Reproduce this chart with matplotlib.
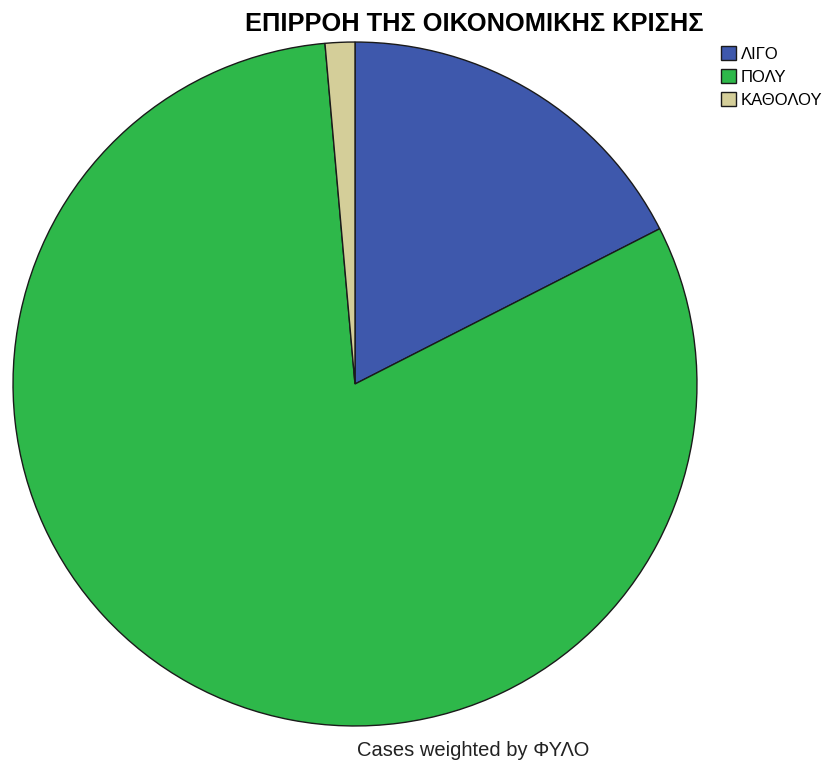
import matplotlib
matplotlib.use("Agg")
import matplotlib.pyplot as plt

plt.rcParams['font.family'] = ['Liberation Sans', 'DejaVu Sans']

categories = ["ΛΙΓΟ", "ΠΟΛΥ", "ΚΑΘΟΛΟΥ"]
shares = [17.5, 81.1, 1.4]
colors = ["#3E58AC", "#2EB84A", "#D4CE99"]

W, H = 828, 762
fig = plt.figure(figsize=(W / 100, H / 100), dpi=100)

cx, cy, r = 355, 384, 343
ax = fig.add_axes([(cx - r) / W, (H - cy - r) / H, 2 * r / W, 2 * r / H])
wedges, _ = ax.pie(shares, colors=colors, startangle=90, counterclock=False,
                   radius=1.0,
                   wedgeprops=dict(edgecolor="#1a1a1a", linewidth=1.0))
ax.set_xlim(-1.003, 1.003)
ax.set_ylim(-1.003, 1.003)
ax.set_aspect("equal")
ax.axis("off")

fig.text(474 / W, 1 - 24 / H, "ΕΠΙΡΡΟΗ ΤΗΣ ΟΙΚΟΝΟΜΙΚΗΣ ΚΡΙΣΗΣ",
         ha="center", va="center", fontsize=18.3, fontweight="bold")

fig.legend(wedges, categories, loc="upper left",
           bbox_to_anchor=(721 / W, 1 - 46 / H), frameon=False,
           fontsize=12, handlelength=0.9, handleheight=0.9,
           handletextpad=0.3, labelspacing=0.45, borderpad=0.0,
           borderaxespad=0.0)

fig.text(473 / W, 1 - 751 / H, "Cases weighted by ΦΥΛΟ",
         ha="center", va="center", fontsize=14.5, color="#222222")

fig.savefig("out.png", dpi=100)
